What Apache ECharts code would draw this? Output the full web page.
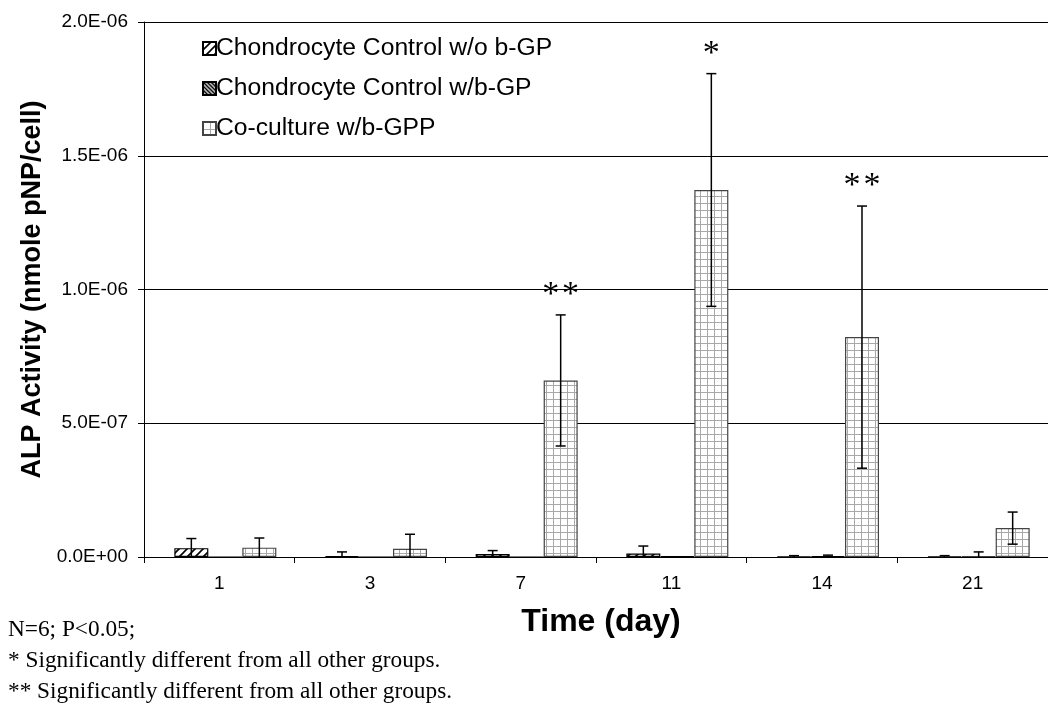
<!DOCTYPE html>
<html><head><meta charset="utf-8">
<script src="https://cdn.jsdelivr.net/npm/echarts@6/dist/echarts.min.js"></script>
<style>html,body{margin:0;padding:0;background:#fff}#c{width:1048px;height:704px}</style>
</head><body><div id="c"></div>
<script>
const categories = ['1', '3', '7', '11', '14', '21'];
const seriesNames = ['Chondrocyte Control w/o b-GP', 'Chondrocyte Control w/b-GP', 'Co-culture w/b-GPP'];
const ctrlNoGP    = [3.3e-8, 0.3e-8, 1.1e-8, 1.3e-8, 0.2e-8, 0.2e-8];
const ctrlNoGPErr = [3.6e-8, 1.6e-8, 1.3e-8, 2.8e-8, 0.3e-8, 0.3e-8];
const ctrlGP      = [0, 0, 0, 0.3e-8, 0.3e-8, 0.2e-8];
const ctrlGPErr   = [0, 0, 0, 0, 0.4e-8, 1.7e-8];
const coculture    = [3.5e-8, 3.1e-8, 6.6e-7, 1.372e-6, 8.22e-7, 1.08e-7];
const cocultureErr = [3.6e-8, 5.4e-8, 2.45e-7, 4.35e-7, 4.9e-7, 6.0e-8];
const sigMarks = ['', '', '**', '*', '**', ''];
const yTickLabels = ['0.0E+00', '5.0E-07', '1.0E-06', '1.5E-06', '2.0E-06'];
const footnotes = ['N=6; P<0.05;', '* Significantly different from all other groups.', '** Significantly different from all other groups.'];

function makePattern(kind) {
  const c = document.createElement('canvas');
  const ctx = c.getContext('2d');
  if (kind === 'hatch') {
    c.width = 8; c.height = 8;
    ctx.fillStyle = '#fff'; ctx.fillRect(0, 0, 8, 8);
    ctx.strokeStyle = '#000'; ctx.lineWidth = 1.6;
    ctx.beginPath();
    ctx.moveTo(0, 8); ctx.lineTo(8, 0);
    ctx.moveTo(-2, 2); ctx.lineTo(2, -2);
    ctx.moveTo(6, 10); ctx.lineTo(10, 6);
    ctx.stroke();
  } else if (kind === 'dense') {
    c.width = 4; c.height = 4;
    ctx.fillStyle = '#bbb'; ctx.fillRect(0, 0, 4, 4);
    ctx.strokeStyle = '#111'; ctx.lineWidth = 1.3;
    ctx.beginPath();
    ctx.moveTo(0, 0); ctx.lineTo(4, 4);
    ctx.moveTo(-2, 2); ctx.lineTo(2, 6);
    ctx.moveTo(2, -2); ctx.lineTo(6, 2);
    ctx.stroke();
  } else {
    c.width = 7; c.height = 7;
    ctx.fillStyle = '#fff'; ctx.fillRect(0, 0, 7, 7);
    ctx.fillStyle = '#a8a8a8';
    ctx.fillRect(0, 0, 7, 1);
    ctx.fillRect(0, 0, 1, 7);
  }
  return { image: c, repeat: 'repeat' };
}

const barValues = [ctrlNoGP, ctrlGP, coculture];
const barErrors = [ctrlNoGPErr, ctrlGPErr, cocultureErr];
const patterns = [makePattern('hatch'), makePattern('dense'), makePattern('grid')];
const borders = ['#000', '#000', '#444'];

const BAR_W = 34, SPACER_W = 12;
const groupW = SPACER_W + 3 * BAR_W;
const barOffsets = [0, 1, 2].map(i => -groupW / 2 + SPACER_W + BAR_W * i + BAR_W / 2);

const errData = [];
for (let s = 0; s < 3; s++) {
  for (let i = 0; i < categories.length; i++) {
    errData.push([i, barValues[s][i], barErrors[s][i], s, s === 2 ? sigMarks[i] : '']);
  }
}

const series = [{
  type: 'bar', name: 'spacer', data: categories.map(() => null),
  barWidth: SPACER_W, barGap: '0%', silent: true
}];
for (let s = 0; s < 3; s++) {
  series.push({
    type: 'bar', name: seriesNames[s], data: barValues[s],
    barWidth: BAR_W, barGap: '0%',
    itemStyle: { color: patterns[s], borderColor: borders[s], borderWidth: 1.2 }
  });
}
series.push({
  type: 'custom', name: 'err', data: errData, z: 10, silent: true,
  renderItem: function (params, api) {
    const idx = api.value(0), v = api.value(1), e = api.value(2), s = api.value(3);
    const mark = errData[params.dataIndex][4];
    const base = api.coord([idx, v]);
    const x = base[0] + barOffsets[s];
    const children = [];
    const yTop = api.coord([idx, v + e])[1];
    const yBot = api.coord([idx, Math.max(v - e, 0)])[1];
    const st = { stroke: '#000', lineWidth: 1.5 };
    if (e > 0) {
      children.push({ type: 'line', shape: { x1: x, y1: yTop, x2: x, y2: yBot }, style: st });
      children.push({ type: 'line', shape: { x1: x - 5, y1: yTop, x2: x + 5, y2: yTop }, style: st });
      if (v - e > 0) children.push({ type: 'line', shape: { x1: x - 5, y1: yBot, x2: x + 5, y2: yBot }, style: st });
    }
    if (mark) {
      children.push({ type: 'text', style: { text: mark.split('').join('\u200A'), x: x, y: yTop - 20, align: 'center', verticalAlign: 'middle',
        font: '34px "Liberation Serif"', fill: '#000' } });
    }
    return { type: 'group', children: children };
  }
});

const chart = echarts.init(document.getElementById('c'), null, { renderer: 'canvas' });
chart.setOption({
  animation: false,
  backgroundColor: '#fff',
  grid: { left: 144, top: 22, width: 915, height: 535 },
  legend: {
    data: seriesNames, orient: 'vertical', left: 197, top: 31,
    itemWidth: 13, itemHeight: 13, itemGap: 15, icon: 'rect',
    textStyle: { fontFamily: 'Liberation Sans', fontSize: 24.7, color: '#000', padding: [0, 0, 0, -5] }
  },
  xAxis: {
    type: 'category', data: categories,
    name: 'Time (day)', nameLocation: 'middle', nameGap: 65,
    nameTextStyle: { fontFamily: 'Liberation Sans', fontSize: 32, fontWeight: 'bold', color: '#000', verticalAlign: 'middle', padding: [0, 0, 0, 10] },
    axisLine: { lineStyle: { color: '#000', width: 1 } },
    axisTick: { show: true, length: 6, lineStyle: { color: '#000' } },
    axisLabel: { fontFamily: 'Liberation Sans', fontSize: 19, color: '#000', margin: 17 }
  },
  yAxis: {
    type: 'value', min: 0, max: 2e-6, interval: 5e-7,
    name: 'ALP Activity (nmole pNP/cell)', nameLocation: 'middle', nameGap: 97, nameRotate: 90,
    nameTextStyle: { fontFamily: 'Liberation Sans', fontSize: 27, fontWeight: 'bold', color: '#000', verticalAlign: 'middle' },
    axisLine: { show: true, lineStyle: { color: '#000', width: 1 } },
    axisTick: { show: true, length: 6, lineStyle: { color: '#000' } },
    splitLine: { lineStyle: { color: '#000', width: 1 } },
    axisLabel: {
      fontFamily: 'Liberation Sans', fontSize: 19, color: '#000', margin: 16,
      formatter: function (v) { return yTickLabels[Math.round(v / 5e-7)]; }
    }
  },
  graphic: footnotes.map((t, i) => ({
    type: 'text', left: 8, top: 618 + i * 31,
    style: { text: t, font: '23.3px "Liberation Serif"', fill: '#000' }
  })),
  series: series
});
</script></body></html>
